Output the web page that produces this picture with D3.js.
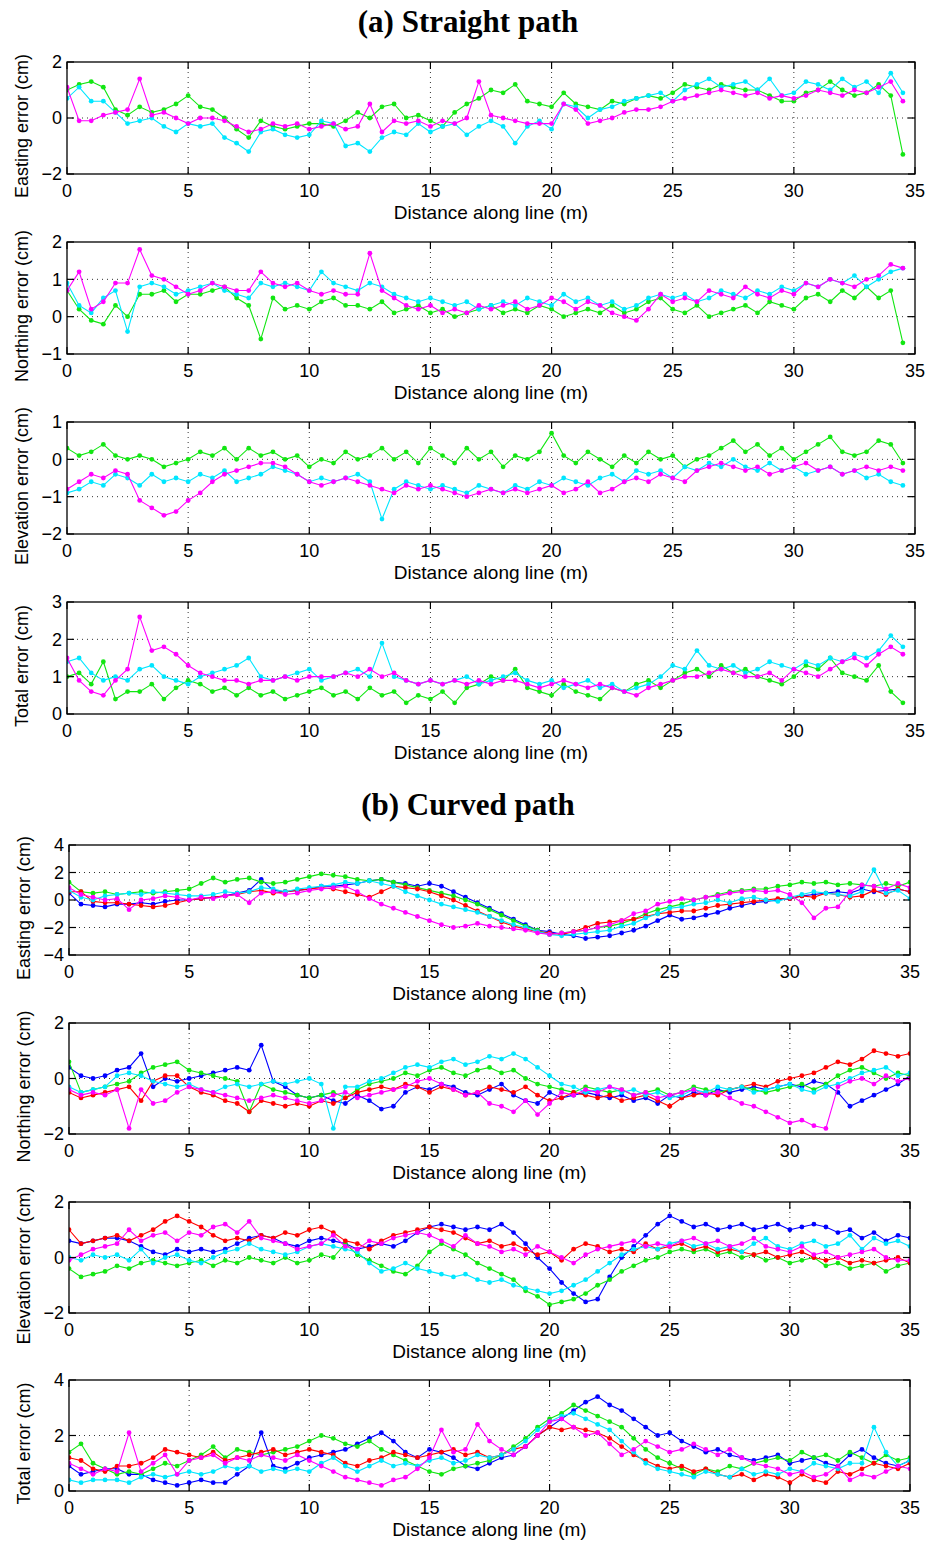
<!DOCTYPE html>
<html>
<head>
<meta charset="utf-8">
<script src="https://cdn.jsdelivr.net/npm/d3@7"></script>
<style>
body{margin:0;background:#fff}
svg text{font-family:"Liberation Sans",Arial,Helvetica,sans-serif;fill:#000}
</style>
</head>
<body>
<svg id="chart" width="928" height="1543"></svg>
<script>
// sample positions (m)
var distA = [0,0.5,1,1.5,2,2.5,3,3.5,4,4.5,5,5.5,6,6.5,7,7.5,8,8.5,9,9.5,
  10,10.5,11,11.5,12,12.5,13,13.5,14,14.5,15,15.5,16,16.5,17,17.5,18,18.5,19,19.5,
  20,20.5,21,21.5,22,22.5,23,23.5,24,24.5,25,25.5,26,26.5,27,27.5,28,28.5,29,29.5,
  30,30.5,31,31.5,32,32.5,33,33.5,34,34.5];
var distB = distA.concat([35]);

var xTickVals = [0,5,10,15,20,25,30,35];

// (a) straight path: green, cyan, magenta
var eastGreenA = [1.0,1.2,1.3,1.1,0.3,0.1,0.4,0.2,0.3,0.5, 0.8,0.4,0.3,0.0,-0.4,-0.7,-0.1,-0.3,-0.4,-0.3,
  -0.2,-0.2,-0.3,-0.1,0.2,0.0,0.4,0.5,0.0,0.1, -0.1,-0.3,0.2,0.5,0.7,1.0,0.9,1.2,0.6,0.5,
  0.4,0.9,0.5,0.4,0.3,0.6,0.5,0.7,0.8,0.7, 0.9,1.2,1.1,1.0,1.2,1.1,1.0,1.0,0.8,0.6,
  0.6,0.9,1.0,1.3,1.0,0.8,0.9,1.2,0.8,-1.3];
var eastCyanA = [0.7,1.1,0.6,0.6,0.2,-0.2,-0.1,0.0,-0.3,-0.5, -0.2,-0.3,-0.2,-0.7,-0.9,-1.2,-0.5,-0.4,-0.6,-0.7,
  -0.6,-0.1,-0.2,-1.0,-0.9,-1.2,-0.7,-0.5,-0.6,-0.2, -0.5,-0.3,-0.2,-0.6,-0.3,-0.1,-0.3,-0.9,-0.3,-0.1,
  -0.4,0.5,0.4,0.0,0.3,0.4,0.6,0.7,0.8,0.9, 0.6,1.0,1.2,1.4,1.1,1.2,1.3,1.0,1.4,0.8,
  0.9,1.3,1.2,1.0,1.4,1.1,1.3,0.9,1.6,0.9];
var eastMagentaA = [1.1,-0.1,-0.1,0.1,0.2,0.3,1.4,0.1,0.2,0.0, -0.2,0.0,0.0,-0.1,-0.3,-0.5,-0.4,-0.2,-0.3,-0.2,
  -0.4,-0.3,-0.2,-0.4,-0.3,0.5,-0.5,-0.1,-0.2,-0.1, -0.3,-0.1,-0.2,0.0,1.3,0.1,0.0,-0.1,-0.2,-0.2,
  -0.2,0.5,0.3,-0.2,-0.1,0.0,0.2,0.3,0.3,0.4, 0.6,0.7,0.8,0.9,1.0,0.9,0.8,0.9,0.7,0.8,
  0.7,0.8,1.0,0.9,0.8,1.0,0.9,1.1,1.3,0.6];

var northGreenA = [0.7,0.2,-0.1,-0.2,0.3,0.0,0.6,0.6,0.7,0.4, 0.6,0.6,0.7,0.8,0.5,0.3,-0.6,0.5,0.2,0.3,
  0.2,0.4,0.5,0.3,0.3,0.2,0.4,0.1,0.2,0.3, 0.1,0.2,0.0,0.1,0.2,0.3,0.1,0.2,0.1,0.3,
  0.2,0.0,0.1,0.2,0.1,0.3,0.1,0.2,0.4,0.5, 0.2,0.1,0.3,0.0,0.1,0.2,0.3,0.1,0.4,0.3,
  0.2,0.5,0.6,0.4,0.7,0.5,0.8,0.5,0.7,-0.7];
var northCyanA = [0.9,0.3,0.1,0.5,0.7,-0.4,0.8,0.9,0.8,0.6, 0.7,0.8,0.9,0.7,0.6,0.5,0.9,0.8,0.9,0.8,
  0.7,1.2,0.9,0.8,0.7,0.9,0.8,0.6,0.5,0.4, 0.5,0.4,0.3,0.4,0.2,0.3,0.4,0.3,0.5,0.4,
  0.3,0.6,0.4,0.5,0.3,0.4,0.2,0.3,0.5,0.6, 0.5,0.6,0.4,0.5,0.7,0.6,0.5,0.7,0.6,0.8,
  0.7,0.9,0.8,1.0,0.9,1.1,0.8,1.0,1.2,1.3];
var northMagentaA = [0.7,1.2,0.2,0.4,0.9,0.9,1.8,1.1,1.0,0.8, 0.6,0.7,0.9,0.8,0.7,0.7,1.2,0.9,0.8,0.9,
  0.7,0.6,0.7,0.6,0.6,1.7,0.7,0.5,0.3,0.2, 0.3,0.1,0.2,0.1,0.3,0.2,0.3,0.4,0.2,0.3,
  0.5,0.4,0.2,0.4,0.3,0.1,0.0,-0.1,0.2,0.6, 0.4,0.5,0.4,0.7,0.6,0.5,0.8,0.6,0.5,0.7,
  0.6,0.9,0.8,1.0,0.9,0.8,1.0,1.1,1.4,1.3];

var elevGreenA = [0.3,0.1,0.2,0.4,0.1,0.0,0.1,0.0,-0.2,-0.1, 0.0,0.2,0.1,0.3,0.0,0.3,0.1,0.2,0.0,0.1,
  -0.2,0.0,-0.1,0.2,0.0,0.1,0.3,0.0,0.2,-0.1, 0.3,0.1,-0.1,0.3,0.0,0.2,-0.2,0.1,0.0,0.2,
  0.7,0.1,-0.1,0.2,0.0,-0.2,0.1,-0.1,0.2,0.0, 0.1,-0.2,0.0,0.1,0.3,0.5,0.2,0.4,0.1,0.3,
  0.0,0.2,0.4,0.6,0.2,0.1,0.2,0.5,0.4,-0.1];
var elevCyanA = [-0.9,-0.8,-0.6,-0.7,-0.4,-0.5,-0.7,-0.4,-0.6,-0.5, -0.6,-0.4,-0.5,-0.3,-0.6,-0.5,-0.4,-0.2,-0.3,-0.4,
  -0.6,-0.5,-0.6,-0.5,-0.4,-0.6,-1.6,-0.8,-0.6,-0.7, -0.8,-0.7,-0.8,-0.9,-0.7,-0.8,-0.9,-0.7,-0.8,-0.6,
  -0.7,-0.5,-0.6,-0.7,-0.5,-0.4,-0.6,-0.3,-0.4,-0.3, -0.5,-0.2,-0.3,-0.1,-0.2,0.0,-0.2,-0.3,-0.1,-0.3,
  -0.2,-0.4,-0.3,-0.2,-0.4,-0.3,-0.5,-0.4,-0.6,-0.7];
var elevMagentaA = [-0.8,-0.6,-0.4,-0.5,-0.3,-0.4,-1.1,-1.3,-1.5,-1.4, -1.1,-0.9,-0.6,-0.4,-0.3,-0.2,-0.1,-0.1,-0.2,-0.4,
  -0.6,-0.7,-0.6,-0.5,-0.6,-0.7,-0.8,-0.9,-0.7,-0.8, -0.7,-0.8,-0.9,-1.0,-0.9,-0.8,-0.9,-0.8,-0.9,-0.8,
  -0.7,-0.9,-0.8,-0.6,-0.9,-0.8,-0.6,-0.5,-0.6,-0.4, -0.5,-0.6,-0.3,-0.2,-0.1,-0.2,-0.3,-0.2,-0.4,-0.3,
  -0.2,-0.1,-0.3,-0.2,-0.4,-0.3,-0.2,-0.3,-0.2,-0.3];

var totalGreenA = [1.0,1.1,0.8,1.4,0.4,0.6,0.6,0.8,0.4,0.7, 0.9,0.8,0.6,0.7,0.5,0.7,0.5,0.6,0.4,0.5,
  0.6,0.7,0.5,0.6,0.4,0.7,0.5,0.6,0.3,0.5, 0.4,0.6,0.3,0.7,0.8,1.0,0.9,1.2,0.7,0.6,
  0.5,0.8,0.6,0.5,0.4,0.7,0.6,0.8,0.9,0.7, 0.9,1.1,1.2,1.0,1.3,1.1,1.2,1.0,0.9,0.8,
  1.0,1.3,1.2,1.5,1.1,1.0,0.9,1.3,0.6,0.3];
var totalCyanA = [1.4,1.5,1.1,0.9,1.0,0.9,1.2,1.3,1.0,0.9, 0.8,1.0,1.1,1.2,1.3,1.5,1.0,0.9,1.0,1.1,
  1.2,0.9,1.0,1.1,1.2,1.0,1.9,1.0,0.9,0.8, 0.9,0.8,0.9,1.0,0.8,0.9,1.0,1.1,0.9,0.8,
  0.9,0.7,0.8,0.9,0.7,0.8,0.6,0.7,0.8,1.0, 1.3,1.2,1.7,1.3,1.2,1.3,1.1,1.2,1.4,1.3,
  1.2,1.4,1.3,1.5,1.4,1.6,1.5,1.7,2.1,1.8];
var totalMagentaA = [1.5,0.9,0.6,0.5,0.9,1.2,2.6,1.7,1.8,1.6, 1.3,1.1,1.0,0.9,0.9,0.8,0.9,0.9,1.0,0.9,
  1.0,1.0,1.0,1.1,1.0,1.2,1.0,1.1,0.9,0.8, 0.9,0.8,0.9,0.8,0.9,0.8,0.9,0.9,0.8,0.7,
  0.8,0.9,0.8,0.7,0.8,0.7,0.6,0.5,0.7,0.8, 0.9,1.0,1.0,1.1,1.2,1.1,1.0,1.0,1.1,0.9,
  1.2,1.1,1.0,1.2,1.4,1.5,1.3,1.6,1.8,1.6];

// (b) curved path: blue, green, red, cyan, magenta
var eastBlueB = [0.5,-0.3,-0.4,-0.5,-0.3,-0.3,-0.2,-0.3,-0.1,0.0, 0.0,0.1,0.2,0.3,0.5,0.7,1.5,0.7,0.6,0.7,
  0.8,1.0,1.0,1.1,1.2,1.4,1.5,1.3,1.2,1.0, 1.2,1.0,0.6,0.2,-0.2,-0.6,-1.0,-1.4,-1.8,-2.2,
  -2.3,-2.5,-2.6,-2.8,-2.7,-2.6,-2.4,-2.2,-1.9,-1.5, -1.1,-1.4,-1.3,-1.1,-0.9,-0.6,-0.4,-0.2,-0.1,0.0,
  0.1,0.3,0.4,0.5,0.6,0.5,0.8,0.6,0.7,0.8, 0.6];
var eastGreenB = [1.3,0.6,0.5,0.6,0.4,0.5,0.6,0.5,0.6,0.7, 0.8,1.2,1.6,1.3,1.5,1.6,1.3,1.2,1.3,1.5,
  1.7,1.9,1.8,1.7,1.5,1.4,1.5,1.3,1.1,0.9, 0.7,0.5,0.3,0.0,-0.3,-0.7,-1.1,-1.5,-1.9,-2.2,
  -2.5,-2.4,-2.3,-2.2,-2.0,-1.9,-1.7,-1.4,-1.0,-0.7, -0.5,-0.3,0.0,0.2,0.4,0.6,0.7,0.8,0.8,1.0,
  1.1,1.3,1.2,1.3,1.1,1.2,1.1,1.0,1.2,1.0, 1.3];
var eastRedB = [0.6,0.6,-0.1,-0.2,-0.2,-0.3,-0.4,-0.5,-0.4,-0.2, 0.0,0.1,0.2,0.3,0.4,0.6,0.7,0.5,0.6,0.7,
  0.8,0.9,0.8,0.6,0.4,0.2,0.6,1.0,0.9,0.8, 0.6,0.3,0.0,-0.4,-0.8,-1.2,-1.6,-1.9,-2.1,-2.3,
  -2.4,-2.5,-2.3,-2.0,-1.7,-1.6,-1.5,-1.4,-1.2,-1.0, -0.9,-0.8,-0.8,-0.6,-0.4,-0.3,-0.2,-0.1,0.0,0.1,
  0.1,0.3,0.2,0.5,0.4,0.2,0.3,0.7,0.4,0.8, 0.6];
var eastCyanB = [0.7,0.2,0.0,0.3,0.4,0.5,0.4,0.6,0.5,0.4, 0.3,0.3,0.4,0.6,0.5,0.6,0.9,0.8,0.6,0.8,
  0.9,1.0,1.1,1.3,1.2,1.4,1.2,1.0,0.6,0.3, 0.0,-0.3,-0.5,-0.7,-0.9,-1.2,-1.5,-1.8,-2.0,-2.3,
  -2.5,-2.6,-2.5,-2.4,-2.3,-2.2,-1.9,-1.7,-1.3,-1.0, -0.6,-0.5,-0.3,-0.2,0.0,-0.2,0.1,0.2,0.0,-0.1,
  0.2,0.4,0.6,0.5,0.4,0.3,0.6,2.2,0.5,0.7, 0.1];
var eastMagentaB = [0.9,0.4,0.2,0.0,0.1,-0.7,0.0,0.1,0.3,0.2, 0.0,0.2,0.1,0.3,0.4,-0.2,0.5,0.6,0.4,0.5,
  0.7,0.8,0.9,1.0,0.6,0.1,-0.3,-0.6,-0.9,-1.2, -1.5,-1.8,-2.0,-1.9,-1.7,-1.9,-2.0,-2.1,-2.2,-2.4,
  -2.5,-2.4,-2.3,-2.2,-2.0,-1.8,-1.5,-1.0,-0.8,-0.3, -0.1,0.1,0.0,0.2,0.3,0.5,0.6,0.7,0.6,0.7,
  0.4,-0.2,-1.3,-0.6,-0.5,0.6,1.1,1.0,0.8,1.2, 0.9];

var northBlueB = [0.4,0.1,0.0,0.1,0.3,0.4,0.9,-0.3,0.0,-0.1, 0.0,0.1,0.2,0.3,0.4,0.3,1.2,-0.1,-0.3,-0.6,
  -0.7,-0.6,-0.8,-0.9,-0.6,-0.8,-1.1,-1.0,-0.5,-0.3, -0.4,-0.2,-0.3,-0.5,-0.6,-0.4,-0.2,-0.6,-0.8,-0.9,
  -0.5,-0.7,-0.6,-0.5,-0.6,-0.7,-0.6,-0.8,-0.7,-0.9, -0.6,-0.7,-0.5,-0.6,-0.4,-0.5,-0.4,-0.3,-0.4,-0.3,
  -0.2,-0.3,-0.1,-0.2,-0.5,-1.0,-0.8,-0.6,-0.4,-0.2, 0.1];
var northGreenB = [0.6,-0.5,-0.4,-0.3,-0.2,-0.1,0.2,0.4,0.5,0.6, 0.3,0.2,0.1,0.0,-0.1,-1.2,-0.2,-0.4,-0.5,-0.6,
  -0.7,-0.6,-0.5,-0.7,-0.4,-0.2,-0.1,0.0,0.2,0.1, 0.3,0.4,0.2,0.1,0.3,0.4,0.2,0.3,0.0,-0.2,
  -0.3,-0.4,-0.5,-0.3,-0.4,-0.5,-0.4,-0.6,-0.5,-0.4, -0.6,-0.5,-0.3,-0.4,-0.5,-0.4,-0.3,-0.4,-0.5,-0.4,
  -0.3,-0.2,-0.4,-0.2,0.1,0.3,0.4,0.2,0.0,0.2, 0.1];
var northRedB = [-0.5,-0.7,-0.6,-0.5,-0.4,-0.3,-0.8,-0.1,0.1,0.1, -0.3,-0.5,-0.6,-0.8,-0.9,-1.2,-0.8,-0.9,-1.0,-0.9,
  -1.0,-0.8,-0.9,-0.7,-0.5,-0.4,-0.3,-0.4,-0.2,-0.3, -0.5,-0.3,-0.4,-0.6,-0.5,-0.3,-0.4,-0.5,-0.3,-0.6,
  -0.8,-0.7,-0.5,-0.6,-0.7,-0.6,-0.8,-0.7,-0.6,-0.8, -1.0,-0.7,-0.6,-0.5,-0.6,-0.4,-0.3,-0.2,-0.3,-0.1,
  0.0,0.1,0.2,0.4,0.6,0.5,0.7,1.0,0.9,0.8, 0.9];
var northCyanB = [-0.3,-0.5,-0.4,-0.3,0.1,0.2,0.1,-0.1,-0.2,-0.3, -0.2,-0.4,-0.5,-0.3,-0.2,-0.3,-0.2,-0.1,-0.2,-0.1,
  0.0,-0.2,-1.8,-0.3,-0.3,-0.1,0.0,0.2,0.4,0.5, 0.4,0.6,0.7,0.5,0.6,0.8,0.7,0.9,0.7,0.4,
  0.1,-0.2,-0.3,-0.5,-0.4,-0.3,-0.5,-0.4,-0.6,-0.5, -0.7,-0.6,-0.4,-0.5,-0.3,-0.4,-0.3,-0.5,-0.4,-0.3,
  -0.2,-0.4,-0.5,-0.3,-0.2,0.0,0.2,0.3,0.4,0.1, 0.2];
var northMagentaB = [-0.4,-0.6,-0.5,-0.6,-0.4,-1.8,-0.4,-0.9,-0.8,-0.5, -0.3,-0.4,-0.5,-0.6,-0.7,-0.8,-0.7,-0.6,-0.7,-0.8,
  -0.9,-0.8,-0.6,-0.5,-0.7,-0.6,-0.5,-0.4,-0.3,-0.1, 0.0,-0.2,-0.4,-0.6,-0.5,-0.9,-1.0,-1.2,-0.8,-1.3,
  -0.9,-0.5,-0.6,-0.4,-0.5,-0.3,-0.4,-0.6,-0.5,-0.7, -0.6,-0.5,-0.4,-0.6,-0.5,-0.7,-0.9,-1.0,-1.2,-1.4,
  -1.6,-1.5,-1.7,-1.8,-0.3,-0.1,0.0,-0.2,0.1,-0.1, 0.0];

var elevBlueB = [0.6,0.5,0.6,0.7,0.7,0.6,0.4,0.2,0.1,0.3, 0.2,0.3,0.2,0.3,0.5,0.7,0.8,0.7,0.5,0.4,
  0.6,0.7,0.6,0.5,0.3,0.4,0.5,0.4,0.6,0.9, 1.1,1.2,1.1,1.0,1.1,1.0,1.2,0.9,0.5,0.0,
  -0.4,-0.9,-1.3,-1.6,-1.5,-0.7,0.0,0.4,0.8,1.2, 1.5,1.3,1.1,1.2,1.0,1.1,1.2,1.0,1.1,1.2,
  1.0,1.1,1.2,1.1,0.9,1.0,0.7,0.9,0.6,0.8, 0.7];
var elevGreenB = [-0.4,-0.7,-0.6,-0.5,-0.3,-0.4,-0.2,-0.1,-0.2,-0.3, -0.2,-0.1,-0.3,-0.1,-0.2,0.0,-0.1,-0.2,0.0,-0.2,
  -0.1,0.1,0.0,0.5,0.1,-0.1,-0.3,-0.5,-0.6,-0.3, 0.2,0.5,0.3,0.1,-0.2,-0.4,-0.6,-0.8,-1.2,-1.4,
  -1.7,-1.6,-1.5,-1.3,-1.0,-0.8,-0.5,-0.3,-0.1,0.0, 0.2,0.3,0.2,0.3,0.1,0.2,0.0,0.1,-0.1,0.0,
  -0.2,-0.1,0.0,-0.3,-0.2,-0.4,-0.3,-0.2,-0.5,-0.3, -0.2];
var elevRedB = [1.0,0.5,0.6,0.7,0.8,0.6,0.8,1.0,1.3,1.5, 1.3,1.1,0.8,0.6,0.7,0.6,0.8,0.7,0.9,0.8,
  1.0,1.1,0.9,0.6,0.5,0.3,0.6,0.8,0.9,1.0, 1.1,1.0,0.9,0.7,0.5,0.6,0.4,0.5,0.3,0.1,
  0.2,-0.1,0.3,0.5,0.4,0.2,0.3,0.2,0.5,0.3, 0.4,0.5,0.3,0.4,0.2,0.3,0.2,0.1,0.2,0.0,
  0.1,0.2,0.0,-0.1,0.0,-0.2,-0.1,-0.2,-0.1,0.0, -0.2];
var elevCyanB = [0.0,-0.1,0.1,0.0,0.1,-0.1,0.3,-0.2,0.0,0.1, -0.1,-0.2,0.0,0.2,0.3,0.5,0.3,0.2,0.1,0.2,
  0.4,0.5,0.4,0.3,0.2,-0.2,-0.5,-0.4,-0.2,-0.4, -0.5,-0.6,-0.7,-0.6,-0.8,-0.9,-0.8,-1.0,-1.1,-1.2,
  -1.3,-1.2,-1.0,-0.8,-0.5,-0.2,0.1,0.3,0.4,0.3, 0.5,0.6,0.4,0.5,0.3,0.4,0.2,0.5,0.7,0.4,
  0.3,0.5,0.6,0.4,0.5,0.8,0.3,0.7,0.5,0.6, 0.4];
var elevMagentaB = [-0.1,0.1,0.3,0.4,0.5,1.0,0.6,0.8,0.9,0.6, 0.9,0.8,1.1,1.2,0.9,1.3,0.7,0.6,0.5,0.3,
  0.4,0.5,0.8,0.4,0.3,0.6,0.5,0.7,0.8,0.9, 0.8,0.6,0.4,0.8,0.5,0.4,0.2,0.3,0.1,0.4,
  0.2,0.0,-0.2,0.1,0.3,0.4,0.5,0.6,0.4,0.5, 0.4,0.6,0.7,0.5,0.6,0.4,0.5,0.7,0.4,0.3,
  0.2,0.4,0.1,0.2,0.0,0.1,0.2,0.3,0.0,-0.1, -0.1];

var totalBlueB = [0.9,0.6,0.7,0.8,0.8,0.6,0.6,0.4,0.3,0.2, 0.3,0.4,0.3,0.3,0.6,0.9,2.1,0.9,0.8,1.0,
  1.2,1.3,1.4,1.5,1.7,1.9,2.1,1.8,1.4,1.2, 1.5,1.4,1.2,0.9,0.8,1.0,1.2,1.3,1.6,2.0,
  2.3,2.6,2.9,3.2,3.4,3.1,2.9,2.6,2.3,2.0, 2.1,1.8,1.6,1.4,1.5,1.3,1.2,1.1,1.2,1.3,
  1.0,1.1,1.2,1.0,0.9,1.3,1.5,1.2,1.0,0.9, 1.1];
var totalGreenB = [1.4,1.7,1.0,0.8,0.6,0.7,0.6,0.8,1.0,0.9, 1.1,1.3,1.6,1.2,1.5,1.4,1.3,1.4,1.5,1.6,
  1.8,2.0,1.9,1.7,1.6,1.8,1.5,1.3,1.1,0.9, 0.7,0.6,0.8,0.9,1.0,1.1,1.3,1.6,1.9,2.3,
  2.6,2.8,3.1,2.9,2.7,2.5,2.3,1.9,1.5,1.2, 1.0,0.8,0.6,0.8,0.7,0.9,0.8,1.0,1.1,1.2,
  1.1,1.4,1.2,1.3,1.1,1.4,1.2,1.0,1.3,1.1, 1.2];
var totalRedB = [1.2,1.1,0.8,0.7,0.9,0.9,1.0,1.2,1.5,1.4, 1.3,1.2,1.4,1.1,1.2,1.3,1.4,1.5,1.3,1.4,
  1.5,1.4,1.3,1.0,0.9,1.1,1.2,1.4,1.3,1.2, 1.3,1.4,1.5,1.3,1.4,1.2,1.3,1.5,1.6,2.0,
  2.3,2.2,2.3,2.2,2.1,1.9,1.6,1.3,1.1,0.9, 0.8,0.9,0.7,0.8,0.6,0.5,0.6,0.4,0.6,0.5,
  0.3,0.6,0.4,0.3,0.7,0.6,0.8,1.0,0.9,0.8, 1.0];
var totalCyanB = [0.4,0.3,0.4,0.4,0.4,0.3,0.5,0.6,0.5,0.6, 0.7,0.6,0.7,0.9,0.8,0.9,0.7,0.8,0.7,0.8,
  0.7,1.0,1.2,0.9,0.7,0.9,1.1,0.9,1.0,0.9, 1.1,1.2,1.0,1.1,1.3,1.2,1.3,1.5,1.8,2.2,
  2.5,2.7,2.8,2.6,2.4,2.2,1.8,1.4,1.0,0.8, 0.7,0.6,0.5,0.7,0.6,0.5,0.8,0.6,0.7,0.6,
  0.8,0.7,1.0,0.9,0.8,1.0,1.0,2.3,1.4,0.9, 1.1];
var totalMagentaB = [1.0,0.8,0.6,0.8,0.7,2.1,0.7,1.0,1.3,0.6, 1.1,1.2,1.3,1.0,1.2,1.1,1.3,1.2,1.1,1.3,
  1.1,0.9,0.7,0.5,0.4,0.3,0.2,0.4,0.5,0.8, 1.2,2.2,1.4,1.5,2.4,1.8,1.5,1.3,1.6,2.0,
  2.5,2.6,2.3,2.0,2.1,1.7,1.3,1.5,1.8,1.6, 1.4,1.5,1.7,1.5,1.3,1.5,1.2,1.0,0.9,0.8,
  0.6,0.7,0.5,0.6,0.9,0.4,0.6,0.5,0.7,0.9, 0.8];

var colors = {b:"#0000ff", g:"#12e612", r:"#ff0000", c:"#00e6ff", m:"#ff00ff"};

var svg = d3.select("#chart");

function drawTitle(text, y){
    svg.append("text")
        .attr("x", 468).attr("y", y)
        .attr("text-anchor", "middle")
        .style("font-family", "'Liberation Serif','Times New Roman',serif")
        .style("font-weight", "bold")
        .style("font-size", "31px")
        .text(text);
}

function drawPanel(p){
    var g = svg.append("g");
    var x = d3.scaleLinear().domain([0, 35]).range([p.left, p.right]);
    var y = d3.scaleLinear().domain(p.yDomain).range([p.bottom, p.top]);
    var tickLen = 7;

    // dotted grid
    g.selectAll("line.gx").data(xTickVals.slice(1, -1)).enter().append("line")
        .attr("x1", function(d){ return x(d); }).attr("x2", function(d){ return x(d); })
        .attr("y1", p.top).attr("y2", p.bottom)
        .attr("stroke", "#333").attr("stroke-width", 1).attr("stroke-dasharray", "1,4");
    g.selectAll("line.gy").data(p.yTicks.slice(1, -1)).enter().append("line")
        .attr("y1", function(d){ return y(d); }).attr("y2", function(d){ return y(d); })
        .attr("x1", p.left).attr("x2", p.right)
        .attr("stroke", "#333").attr("stroke-width", 1).attr("stroke-dasharray", "1,4");

    var clipId = "clip" + p.id;
    svg.append("clipPath").attr("id", clipId).append("rect")
        .attr("x", p.left).attr("y", p.top - 4)
        .attr("width", p.right - p.left).attr("height", p.bottom - p.top + 8);
    var plot = g.append("g").attr("clip-path", "url(#" + clipId + ")");

    var line = d3.line()
        .x(function(d){ return x(d[0]); })
        .y(function(d){ return y(d[1]); });

    p.series.forEach(function(s){
        var pts = s.values.map(function(v, i){ return [p.xs[i], v]; });
        plot.append("path").datum(pts)
            .attr("d", line)
            .attr("fill", "none")
            .attr("stroke", colors[s.color])
            .attr("stroke-width", 1.1);
        plot.selectAll(null).data(pts).enter().append("circle")
            .attr("cx", function(d){ return x(d[0]); })
            .attr("cy", function(d){ return y(d[1]); })
            .attr("r", 2.4)
            .attr("fill", colors[s.color]);
    });

    // box
    g.append("rect")
        .attr("x", p.left).attr("y", p.top)
        .attr("width", p.right - p.left).attr("height", p.bottom - p.top)
        .attr("fill", "none").attr("stroke", "#000").attr("stroke-width", 1.3);

    // inward ticks on all sides
    xTickVals.forEach(function(t){
        g.append("line").attr("x1", x(t)).attr("x2", x(t))
            .attr("y1", p.bottom).attr("y2", p.bottom - tickLen)
            .attr("stroke", "#000").attr("stroke-width", 1.2);
        g.append("line").attr("x1", x(t)).attr("x2", x(t))
            .attr("y1", p.top).attr("y2", p.top + tickLen)
            .attr("stroke", "#000").attr("stroke-width", 1.2);
    });
    p.yTicks.forEach(function(t){
        g.append("line").attr("x1", p.left).attr("x2", p.left + tickLen)
            .attr("y1", y(t)).attr("y2", y(t))
            .attr("stroke", "#000").attr("stroke-width", 1.2);
        g.append("line").attr("x1", p.right).attr("x2", p.right - tickLen)
            .attr("y1", y(t)).attr("y2", y(t))
            .attr("stroke", "#000").attr("stroke-width", 1.2);
    });

    // tick labels
    var fmt = d3.format("d");
    g.selectAll("text.xt").data(xTickVals).enter().append("text")
        .attr("x", function(d){ return x(d); })
        .attr("y", p.bottom + 23)
        .attr("text-anchor", "middle")
        .style("font-size", "18px")
        .text(fmt);
    g.selectAll("text.yt").data(p.yTicks).enter().append("text")
        .attr("x", p.left - 5)
        .attr("y", function(d){ return y(d); })
        .attr("dy", "0.35em")
        .attr("text-anchor", "end")
        .style("font-size", "18px")
        .text(fmt);

    // axis labels
    g.append("text")
        .attr("x", (p.left + p.right) / 2)
        .attr("y", p.bottom + 45)
        .attr("text-anchor", "middle")
        .style("font-size", "19px")
        .text("Distance along line (m)");
    g.append("text")
        .attr("transform", "translate(" + p.labelX + "," + ((p.top + p.bottom) / 2 + 8) + ") rotate(-90)")
        .attr("text-anchor", "middle")
        .style("font-size", "18px")
        .text(p.ylabel);
}

function seriesA(green, cyan, magenta){
    return [{color:"g", values:green}, {color:"c", values:cyan}, {color:"m", values:magenta}];
}
function seriesB(blue, green, red, cyan, magenta){
    return [{color:"b", values:blue}, {color:"g", values:green}, {color:"r", values:red},
            {color:"c", values:cyan}, {color:"m", values:magenta}];
}

drawTitle("(a) Straight path", 32);
drawTitle("(b) Curved path", 815);

var panels = [
    {id:1, left:67, right:915, top:62, bottom:174, yDomain:[-2,2], yTicks:[-2,0,2], labelX:28,
     ylabel:"Easting error (cm)", xs:distA, series:seriesA(eastGreenA, eastCyanA, eastMagentaA)},
    {id:2, left:67, right:915, top:242, bottom:354, yDomain:[-1,2], yTicks:[-1,0,1,2], labelX:28,
     ylabel:"Northing error (cm)", xs:distA, series:seriesA(northGreenA, northCyanA, northMagentaA)},
    {id:3, left:67, right:915, top:422, bottom:534, yDomain:[-2,1], yTicks:[-2,-1,0,1], labelX:28,
     ylabel:"Elevation error (cm)", xs:distA, series:seriesA(elevGreenA, elevCyanA, elevMagentaA)},
    {id:4, left:67, right:915, top:602, bottom:714, yDomain:[0,3], yTicks:[0,1,2,3], labelX:28,
     ylabel:"Total error (cm)", xs:distA, series:seriesA(totalGreenA, totalCyanA, totalMagentaA)},
    {id:5, left:69, right:910, top:845, bottom:955, yDomain:[-4,4], yTicks:[-4,-2,0,2,4], labelX:30,
     ylabel:"Easting error (cm)", xs:distB, series:seriesB(eastBlueB, eastGreenB, eastRedB, eastCyanB, eastMagentaB)},
    {id:6, left:69, right:910, top:1023, bottom:1134, yDomain:[-2,2], yTicks:[-2,0,2], labelX:30,
     ylabel:"Northing error (cm)", xs:distB, series:seriesB(northBlueB, northGreenB, northRedB, northCyanB, northMagentaB)},
    {id:7, left:69, right:910, top:1202, bottom:1313, yDomain:[-2,2], yTicks:[-2,0,2], labelX:30,
     ylabel:"Elevation error (cm)", xs:distB, series:seriesB(elevBlueB, elevGreenB, elevRedB, elevCyanB, elevMagentaB)},
    {id:8, left:69, right:910, top:1380, bottom:1491, yDomain:[0,4], yTicks:[0,2,4], labelX:30,
     ylabel:"Total error (cm)", xs:distB, series:seriesB(totalBlueB, totalGreenB, totalRedB, totalCyanB, totalMagentaB)}
];

panels.forEach(drawPanel);
</script>
</body>
</html>
